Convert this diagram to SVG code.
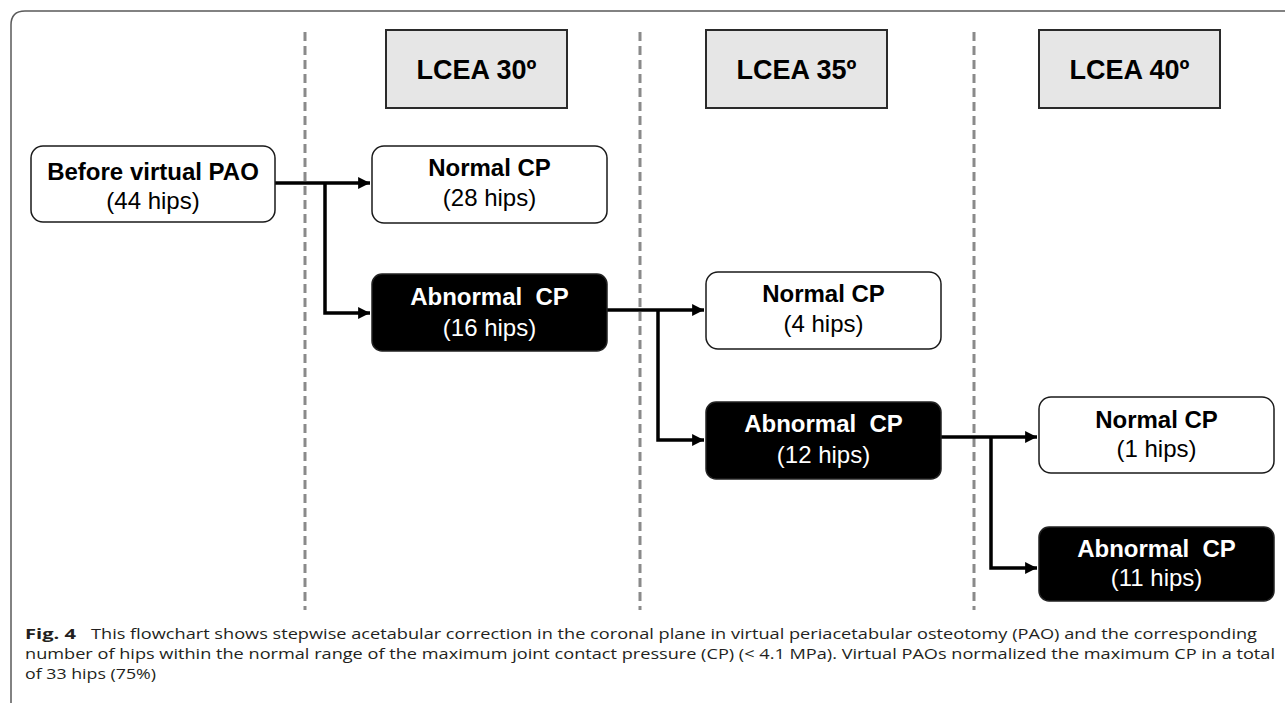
<svg xmlns="http://www.w3.org/2000/svg" width="1285" height="703" viewBox="0 0 1285 703">
<style>
.frame{fill:none;stroke:#5a5a5a;stroke-width:1.5}
.div{stroke:#8a8a8a;stroke-width:3;stroke-dasharray:9 5;fill:none}
.hdr{fill:#e6e6e6;stroke:#2a2a2a;stroke-width:2}
.wn{fill:#fff;stroke:#1a1a1a;stroke-width:1.5}
.bn{fill:#000;stroke:#222;stroke-width:1.5}
.t{font-family:"Liberation Sans",Arial,sans-serif;text-anchor:middle;font-size:24px;white-space:pre}
.b{font-weight:bold}
.hd{font-family:"Liberation Sans",Arial,sans-serif;text-anchor:middle;font-size:27px;font-weight:bold;fill:#000}
.dk{fill:#000}
.lt{fill:#fff}
.conn{stroke:#000;stroke-width:3.5;fill:none}
.cap{font-family:"Open Sans","Noto Sans",sans-serif;font-size:15px;fill:#231f20}
</style>
<defs>
<marker id="ah" viewBox="0 0 10 10" refX="10" refY="5" markerWidth="3.4" markerHeight="3.4" markerUnits="strokeWidth" orient="auto">
<path d="M0,0 L10,5 L0,10 z" fill="#000"/>
</marker>
</defs>
<rect width="1285" height="703" fill="#fff"/>
<path class="frame" d="M11,703 L11,25 Q11,11 25,11 L1285,11"/>
<g id="dividers">
<line class="div" x1="305" y1="32" x2="305" y2="610"/>
<line class="div" x1="640" y1="32" x2="640" y2="610"/>
<line class="div" x1="974" y1="32" x2="974" y2="610"/>
</g>
<g id="hdr30"><rect class="hdr" x="386" y="30" width="181" height="78"/><text class="hd" x="476.5" y="79">LCEA 30º</text></g>
<g id="hdr35"><rect class="hdr" x="706" y="30" width="181" height="78"/><text class="hd" x="796.5" y="79">LCEA 35º</text></g>
<g id="hdr40"><rect class="hdr" x="1039" y="30" width="181" height="78"/><text class="hd" x="1129.5" y="79">LCEA 40º</text></g>
<g id="connectors">
<path class="conn" d="M275,183 L370,183" marker-end="url(#ah)"/>
<path class="conn" d="M325,183 L325,313 L370,313" marker-end="url(#ah)"/>
<path class="conn" d="M607,310 L704,310" marker-end="url(#ah)"/>
<path class="conn" d="M658,310 L658,440 L704,440" marker-end="url(#ah)"/>
<path class="conn" d="M941,437 L1037,437" marker-end="url(#ah)"/>
<path class="conn" d="M991,437 L991,568 L1037,568" marker-end="url(#ah)"/>
</g>
<g id="before"><rect class="wn" x="31" y="146" width="244" height="76" rx="12"/><text class="t b dk" x="153" y="180">Before virtual PAO</text><text class="t dk" x="153" y="209">(44 hips)</text></g>
<g id="normal28"><rect class="wn" x="372" y="146" width="235" height="77" rx="12"/><text class="t b dk" x="489.5" y="176">Normal CP</text><text class="t dk" x="489.5" y="206">(28 hips)</text></g>
<g id="abnormal16"><rect class="bn" x="372" y="274" width="235" height="77" rx="10"/><text class="t b lt" x="489.5" y="305">Abnormal  CP</text><text class="t lt" x="489.5" y="336">(16 hips)</text></g>
<g id="normal4"><rect class="wn" x="706" y="272" width="235" height="77" rx="12"/><text class="t b dk" x="823.5" y="302">Normal CP</text><text class="t dk" x="823.5" y="332">(4 hips)</text></g>
<g id="abnormal12"><rect class="bn" x="706" y="402" width="235" height="77" rx="10"/><text class="t b lt" x="823.5" y="432">Abnormal  CP</text><text class="t lt" x="823.5" y="463">(12 hips)</text></g>
<g id="normal1"><rect class="wn" x="1039" y="397" width="235" height="76" rx="12"/><text class="t b dk" x="1156.5" y="428">Normal CP</text><text class="t dk" x="1156.5" y="457">(1 hips)</text></g>
<g id="abnormal11"><rect class="bn" x="1039" y="527" width="235" height="74" rx="10"/><text class="t b lt" x="1156.5" y="557">Abnormal  CP</text><text class="t lt" x="1156.5" y="586">(11 hips)</text></g>
<g id="caption">
<text class="cap" x="25" y="639" font-weight="bold" textLength="51" lengthAdjust="spacingAndGlyphs">Fig. 4</text>
<text class="cap" x="91" y="639" textLength="1166" lengthAdjust="spacingAndGlyphs">This flowchart shows stepwise acetabular correction in the coronal plane in virtual periacetabular osteotomy (PAO) and the corresponding</text>
<text class="cap" x="25" y="659" textLength="1250" lengthAdjust="spacingAndGlyphs">number of hips within the normal range of the maximum joint contact pressure (CP) (&lt; 4.1 MPa). Virtual PAOs normalized the maximum CP in a total</text>
<text class="cap" x="25" y="679" textLength="131" lengthAdjust="spacingAndGlyphs">of 33 hips (75%)</text>
</g>
</svg>
